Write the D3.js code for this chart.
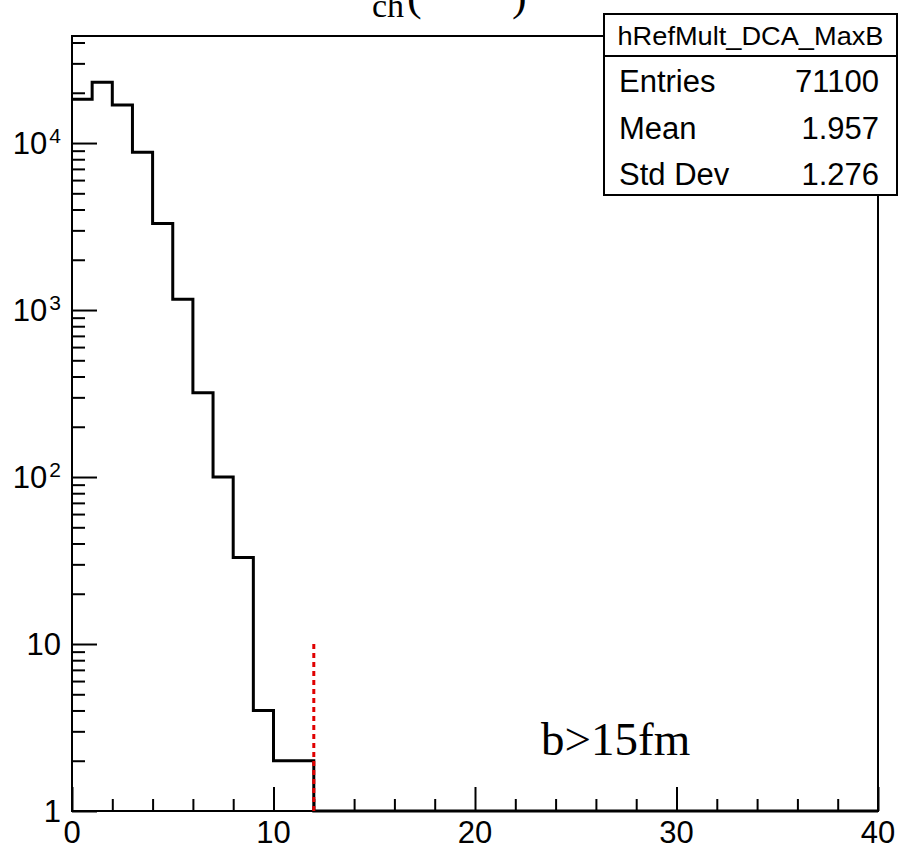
<!DOCTYPE html>
<html lang="en">
<head>
  <meta charset="UTF-8">
  <title>hRefMult_DCA_MaxB</title>
  <style>
    body { margin: 0; background: #fff; }
    svg { display: block; }
    .lab { font-family: "Liberation Sans", Arial, sans-serif; fill: #000; }
    .serif { font-family: "Liberation Serif", "Times New Roman", serif; fill: #000; }
  </style>
</head>
<body>
<script src="https://d3js.org/d3.v7.min.js"></script>
<script>
  // histogram contents, bins of width 1 starting at 0
  const binLow = [0, 1, 2, 3, 4, 5, 6, 7, 8, 9, 10, 11];
  const counts = [18300, 23100, 16900, 8800, 3300, 1160, 320, 100, 33, 4, 2, 2];
  const xMajor = [0, 10, 20, 30, 40];
  const xMinor = [2, 4, 6, 8, 12, 14, 16, 18, 22, 24, 26, 28, 32, 34, 36, 38];
  const yMajor = [1, 10, 100, 1000, 10000];
  const yLabels = [["1", ""], ["10", ""], ["10", "2"], ["10", "3"], ["10", "4"]];
  const statNames = ["Entries", "Mean", "Std Dev"];
  const statValues = ["71100", "1.957", "1.276"];
  const cutX = 12;
  const cutTop = 10;

  const width = 898, height = 850;
  const pad = { left: 72, right: 878, top: 36, bottom: 811 };

  const svg = d3.select('body').append('svg')
    .attr('width', width)
    .attr('height', height);

  const x = d3.scaleLinear().domain([0, 40]).range([pad.left, pad.right]);
  const y = d3.scaleLog().domain([1, Math.pow(10, 4.641)]).range([pad.bottom, pad.top]);

  // title, mostly above the top of the page (only its lower edge shows)
  const title = svg.append('g').attr('class', 'title');
  title.append('text').attr('class', 'serif')
    .attr('x', 340).attr('y', -1).attr('font-size', 42).text('N');
  title.append('text').attr('class', 'serif')
    .attr('x', 372).attr('y', 17).attr('font-size', 34).text('ch');
  title.append('text').attr('class', 'serif')
    .attr('x', 407).attr('y', 10).attr('font-size', 44).text('(');
  title.append('text').attr('class', 'serif')
    .attr('x', 424).attr('y', -1).attr('font-size', 40).text('DCA');
  title.append('text').attr('class', 'serif')
    .attr('x', 512).attr('y', 10).attr('font-size', 44).text(')');

  // frame
  svg.append('rect')
    .attr('x', pad.left).attr('y', pad.top)
    .attr('width', pad.right - pad.left).attr('height', pad.bottom - pad.top)
    .attr('fill', 'none').attr('stroke', '#000').attr('stroke-width', 2);

  // y axis ticks
  const yMinor = [];
  yMajor.forEach(d => { for (let k = 2; k <= 9; k++) if (d * k < y.domain()[1]) yMinor.push(d * k); });

  svg.append('g')
    .attr('transform', 'translate(' + pad.left + ',0)')
    .call(d3.axisLeft(y).tickValues(yMajor).tickSizeInner(-25).tickSizeOuter(0).tickFormat(''))
    .call(g => g.select('.domain').remove())
    .call(g => g.selectAll('line').attr('stroke-width', 2));
  svg.append('g')
    .attr('transform', 'translate(' + pad.left + ',0)')
    .call(d3.axisLeft(y).tickValues(yMinor).tickSizeInner(-13).tickSizeOuter(0).tickFormat(''))
    .call(g => g.select('.domain').remove())
    .call(g => g.selectAll('line').attr('stroke-width', 2));

  // y labels
  yMajor.forEach((d, i) => {
    const t = svg.append('text').attr('class', 'lab')
      .attr('x', 61).attr('y', y(d)).attr('dy', '0.36em')
      .attr('text-anchor', 'end').attr('font-size', 31);
    t.append('tspan').text(yLabels[i][0]);
    if (yLabels[i][1]) {
      t.append('tspan').attr('font-size', 21).attr('dy', '-0.55em').attr('dx', 2).text(yLabels[i][1]);
    }
  });

  // x axis ticks
  svg.append('g')
    .attr('transform', 'translate(0,' + pad.bottom + ')')
    .call(d3.axisBottom(x).tickValues(xMajor).tickSizeInner(-24).tickSizeOuter(0).tickFormat(''))
    .call(g => g.select('.domain').remove())
    .call(g => g.selectAll('line').attr('stroke-width', 2));
  svg.append('g')
    .attr('transform', 'translate(0,' + pad.bottom + ')')
    .call(d3.axisBottom(x).tickValues(xMinor).tickSizeInner(-12).tickSizeOuter(0).tickFormat(''))
    .call(g => g.select('.domain').remove())
    .call(g => g.selectAll('line').attr('stroke-width', 2));

  svg.selectAll('.xlab').data(xMajor).enter().append('text')
    .attr('class', 'lab xlab')
    .attr('x', d => x(d)).attr('y', 843)
    .attr('text-anchor', 'middle').attr('font-size', 31)
    .text(d => d);

  // histogram step line
  const pts = [];
  binLow.forEach((b, i) => {
    pts.push([x(b), y(counts[i])]);
    pts.push([x(b + 1), y(counts[i])]);
  });
  const lastEdge = binLow[binLow.length - 1] + 1;
  pts.push([x(lastEdge), pad.bottom]);
  pts.push([x(40), pad.bottom]);

  svg.append('path')
    .attr('d', d3.line()(pts))
    .attr('fill', 'none')
    .attr('stroke', '#000')
    .attr('stroke-width', 3)
    .attr('stroke-linejoin', 'miter');

  // cut line
  svg.append('line')
    .attr('x1', x(cutX)).attr('x2', x(cutX))
    .attr('y1', y(cutTop)).attr('y2', pad.bottom)
    .attr('stroke', '#e00000')
    .attr('stroke-width', 3)
    .attr('stroke-dasharray', '5,4');

  // annotation
  svg.append('text').attr('class', 'serif')
    .attr('x', 541).attr('y', 755)
    .attr('font-size', 47)
    .text('b>15fm');

  // stats box
  const bx = 604, by = 14, bw = 293, bh = 181, sep = 56;
  svg.append('rect')
    .attr('x', bx).attr('y', by).attr('width', bw).attr('height', bh)
    .attr('fill', '#fff').attr('stroke', '#000').attr('stroke-width', 2);
  svg.append('line')
    .attr('x1', bx).attr('x2', bx + bw).attr('y1', sep).attr('y2', sep)
    .attr('stroke', '#000').attr('stroke-width', 2);
  svg.append('text').attr('class', 'lab')
    .attr('x', bx + bw / 2).attr('y', 45)
    .attr('text-anchor', 'middle').attr('font-size', 26)
    .attr('textLength', 266).attr('lengthAdjust', 'spacingAndGlyphs')
    .text('hRefMult_DCA_MaxB');

  statNames.forEach((n, i) => {
    const yy = 92 + i * 46.5;
    svg.append('text').attr('class', 'lab')
      .attr('x', 619).attr('y', yy).attr('font-size', 31).text(n);
    svg.append('text').attr('class', 'lab')
      .attr('x', 879).attr('y', yy).attr('font-size', 31)
      .attr('text-anchor', 'end').text(statValues[i]);
  });
</script>
</body>
</html>
